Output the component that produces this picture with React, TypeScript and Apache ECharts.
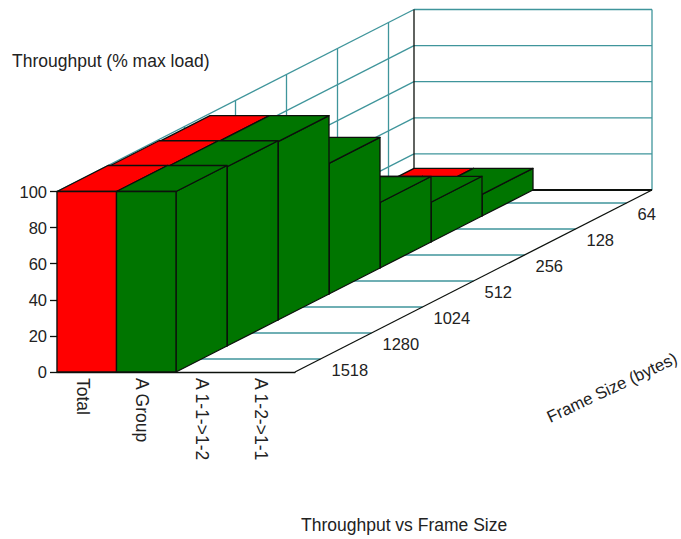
import React, { useEffect, useRef } from "react";
import * as echarts from "echarts";

const categories = ["Total", "A Group", "A 1-1->1-2", "A 1-2->1-1"];
const frameSizes = ["1518", "1280", "1024", "512", "256", "128", "64"];
const totalValues = [100, 99.3, 98.8, 72.4, 36.3, 22, 12];
const aGroupValues = [100, 99.3, 98.8, 72.4, 36.3, 22, 12];
const valueTicks = [0, 20, 40, 60, 80, 100];

const DX = 51;
const DY = -26;
const FONT = "Liberation Sans, Arial, sans-serif";
const TEAL = "#3f959b";
const INK = "#0c100c";
const RED = "#ff0000";
const GREEN = "#007500";
const TEXT = "#222";

const barSeries: [number, number, number][] = [];
for (let d = frameSizes.length - 1; d >= 0; d--) {
  barSeries.push([0, d, totalValues[d]]);
  barSeries.push([1, d, aGroupValues[d]]);
}

function edges(api: any, cat: number, value: number) {
  const c = api.coord([cat, value]);
  const w = api.size([1, 0])[0];
  return { l: c[0] - w / 2, r: c[0] + w / 2, y: c[1] };
}

function line(x1: number, y1: number, x2: number, y2: number, stroke: string, lineWidth = 1.3) {
  return { type: "line", shape: { x1, y1, x2, y2 }, style: { stroke, lineWidth, fill: "none" } };
}

const n = frameSizes.length;

const renderWallTick = (_: any, api: any) => {
  const v = api.value(0);
  const left = edges(api, 0, v);
  const right = edges(api, categories.length - 1, v);
  const bx = left.l + n * DX;
  const by = left.y + n * DY;
  const ex = right.r + n * DX;
  return { type: "group", children: [line(left.l, left.y, bx, by, TEAL), line(bx, by, ex, by, TEAL)] };
};

const renderDepthTick = (_: any, api: any) => {
  const i = Math.round(api.value(0));
  const lo = edges(api, 0, 0);
  const hi = edges(api, 0, 100);
  const rr = edges(api, categories.length - 1, 0);
  const t = i + 0.5;
  const fx = lo.l + t * DX;
  return {
    type: "group",
    children: [
      line(fx, lo.y + t * DY, fx, hi.y + t * DY, TEAL),
      line(lo.l + t * DX, lo.y + t * DY, rr.r + t * DX, lo.y + t * DY, TEAL),
      {
        type: "text",
        style: {
          text: frameSizes[i],
          x: rr.r + t * DX + 11,
          y: lo.y + t * DY + 11,
          fill: TEXT,
          fontSize: 16.5,
          fontFamily: FONT,
          align: "left",
          verticalAlign: "middle",
        },
      },
    ],
  };
};

const renderFrame = (_: any, api: any) => {
  const lo = edges(api, 0, 0);
  const hi = edges(api, 0, 100);
  const rr = edges(api, categories.length - 1, 0);
  const rt = edges(api, categories.length - 1, 100);
  const bx = lo.l + n * DX;
  const by = lo.y + n * DY;
  const ex = rr.r + n * DX;
  return {
    type: "group",
    children: [
      line(bx, by, bx, hi.y + n * DY, INK),
      line(ex, by, ex, rt.y + n * DY, TEAL),
      line(bx, by, ex, by, INK, 2),
      line(rr.r, rr.y, ex, by, INK),
    ],
  };
};

const renderBar = (_: any, api: any) => {
  const cat = api.value(0);
  const d = api.value(1);
  const v = api.value(2);
  const top = edges(api, cat, v);
  const base = edges(api, cat, 0);
  const fill = cat === 0 ? RED : GREEN;
  const style = { fill, stroke: INK, lineWidth: 1.3, lineJoin: "round" };
  const f = d * DX;
  const g = d * DY;
  return {
    type: "group",
    children: [
      {
        type: "polygon",
        shape: { points: [[top.r + f, top.y + g], [top.r + f + DX, top.y + g + DY], [base.r + f + DX, base.y + g + DY], [base.r + f, base.y + g]] },
        style,
      },
      {
        type: "polygon",
        shape: { points: [[top.l + f, top.y + g], [top.l + f + DX, top.y + g + DY], [top.r + f + DX, top.y + g + DY], [top.r + f, top.y + g]] },
        style,
      },
      {
        type: "polygon",
        shape: { points: [[top.l + f, top.y + g], [top.r + f, top.y + g], [base.r + f, base.y + g], [base.l + f, base.y + g]] },
        style,
      },
    ],
  };
};

export default function App() {
  const ref = useRef<HTMLDivElement>(null);
  useEffect(() => {
    const chart = echarts.init(ref.current!, null, { renderer: "svg" });
    chart.setOption({
      animation: false,
      backgroundColor: "#fff",
      grid: { left: 57, top: 191.5, width: 238, height: 180.5 },
      xAxis: {
        type: "category",
        data: categories,
        axisTick: { show: false },
        axisLine: { lineStyle: { color: INK, width: 1.3 } },
        axisLabel: { rotate: -90, margin: 6, fontSize: 17.5, lineHeight: 8, verticalAlign: "top", fontFamily: FONT, color: TEXT, interval: 0 },
      },
      yAxis: {
        type: "value",
        min: 0,
        max: 100,
        interval: 20,
        splitLine: { show: false },
        axisLine: { show: true, lineStyle: { color: INK, width: 1.3 } },
        axisTick: { show: true, length: 7, lineStyle: { color: INK, width: 1.3 } },
        axisLabel: { margin: 10, fontSize: 16.5, fontFamily: FONT, color: TEXT },
      },
      graphic: [
        { type: "text", x: 12, y: 61, style: { text: "Throughput (% max load)", fontSize: 17.5, fontFamily: FONT, fill: TEXT, align: "left", verticalAlign: "middle" } },
        { type: "text", x: 301, y: 525, style: { text: "Throughput vs Frame Size", fontSize: 17.5, fontFamily: FONT, fill: TEXT, align: "left", verticalAlign: "middle" } },
        { type: "text", x: 548, y: 418, rotation: 0.44, style: { text: "Frame Size (bytes)", fontSize: 16.8, fontFamily: FONT, fill: TEXT, align: "left", verticalAlign: "middle" } },
      ],
      series: [
        { type: "custom", silent: true, clip: false, z: 1, data: valueTicks.map((t) => [t]), encode: { y: 0 }, renderItem: renderWallTick },
        { type: "custom", silent: true, clip: false, z: 1, data: frameSizes.map((_, i) => [i]), encode: { x: 0 }, renderItem: renderDepthTick },
        { type: "custom", silent: true, clip: false, z: 2, data: [[0]], encode: { x: 0 }, renderItem: renderFrame },
        { type: "custom", silent: true, clip: false, z: 3, data: barSeries, encode: { x: 0, y: 2 }, renderItem: renderBar },
      ],
    });
    return () => chart.dispose();
  }, []);
  return <div ref={ref} style={{ position: "fixed", left: 0, top: 0, width: 681, height: 539 }} />;
}
